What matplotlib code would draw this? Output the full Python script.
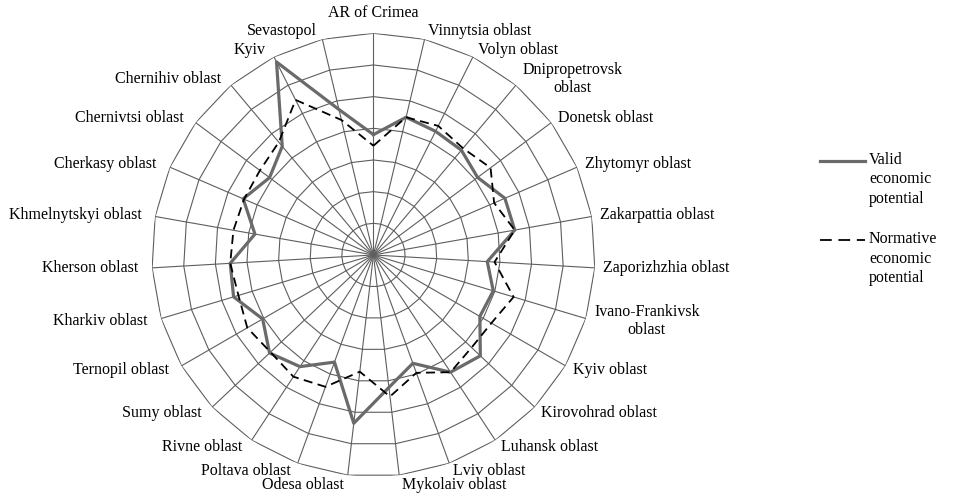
import numpy as np
import matplotlib
matplotlib.use('Agg')
import matplotlib.pyplot as plt
from matplotlib.lines import Line2D

# Regiony (zgodnie z ruchem wskazówek zegara, od góry)
regiony = ["AR of Crimea", "Vinnytsia oblast", "Volyn oblast", "Dnipropetrovsk\noblast",
           "Donetsk oblast", "Zhytomyr oblast", "Zakarpattia oblast", "Zaporizhzhia oblast",
           "Ivano-Frankivsk\noblast", "Kyiv oblast", "Kirovohrad oblast", "Luhansk oblast",
           "Lviv oblast", "Mykolaiv oblast", "Odesa oblast", "Poltava oblast", "Rivne oblast",
           "Sumy oblast", "Ternopil oblast", "Kharkiv oblast", "Kherson oblast",
           "Khmelnytskyi oblast", "Cherkasy oblast", "Chernivtsi oblast", "Chernihiv oblast",
           "Kyiv", "Sevastopol"]

# Wartości
valid = [3.80, 4.47, 4.37, 4.32, 4.10, 4.52, 4.53, 3.60, 3.95, 3.88, 4.64, 4.43, 3.64, 4.21,
         5.35, 3.60, 4.22, 4.51, 4.04, 4.61, 4.53, 3.80, 4.48, 4.09, 4.48, 6.82, 4.72]
normative = [3.45, 4.47, 4.56, 4.40, 4.61, 4.15, 4.53, 3.83, 4.62, 4.30, 4.26, 4.43, 3.96, 4.50,
             3.71, 4.43, 4.60, 4.47, 4.60, 4.45, 4.53, 4.49, 4.45, 4.47, 4.65, 5.48, 4.38]

legenda = ["Valid\neconomic\npotential", "Normative\neconomic\npotential"]

RMAX = 7
SIATKA = '#5e5e5e'

plt.rcParams['font.family'] = ['Liberation Serif', 'DejaVu Serif']
plt.rcParams['font.size'] = 11.5

fig = plt.figure(figsize=(9.63, 4.93), dpi=100)
ax = fig.add_axes([0.1576, 0.0331, 0.4604, 0.8994], projection='polar')
ax.set_theta_zero_location('N')
ax.set_theta_direction(-1)
ax.set_ylim(0, RMAX)
ax.grid(False)
ax.spines['polar'].set_visible(False)
ax.set_xticks([])
ax.set_yticks([])

n = len(regiony)
katy = np.arange(n) * 2 * np.pi / n
katy_z = np.append(katy, katy[0])

# siatka wielokątna
for r in range(1, RMAX + 1):
    ax.plot(katy_z, [r] * (n + 1), color=SIATKA, lw=0.8, zorder=1)
for k in katy:
    ax.plot([k, k], [0, RMAX], color=SIATKA, lw=0.8, zorder=1)

# serie
ax.plot(katy_z, valid + [valid[0]], color='#6a6a6a', lw=2.3, zorder=3)
ax.plot(katy_z, normative + [normative[0]], color='black', lw=1.3, dashes=(5, 3), zorder=4)

# etykiety kategorii
for k, nazwa in zip(katy, regiony):
    s, c = np.sin(k), np.cos(k)
    if abs(s) < 0.05:
        ha, va, dx, dy = 'center', 'bottom', 0, 12
    elif s > 0:
        ha, va, dx, dy = 'left', 'center', 2 + 6.5 * s, 8 * c
    else:
        ha, va, dx, dy = 'right', 'center', -(3 + 11 * abs(s)), 8 * c
    if c < -0.97:
        dy -= 1.5  # najniższe etykiety trochę niżej
    ax.annotate(nazwa, xy=(k, RMAX), xytext=(dx, dy), textcoords='offset pixels',
                ha=ha, va=va, multialignment='center', annotation_clip=False)

# legenda
W, H = 963.0, 493.0
style = [dict(color='#6a6a6a', lw=2.3), dict(color='black', lw=1.3, dashes=(6.5, 3.7))]
for i, (tekst, st) in enumerate(zip(legenda, style)):
    y = 160.7 + i * 79.3
    fig.add_artist(Line2D([820 / W, 865 / W], [1 - y / H, 1 - y / H], **st))
    fig.text(869 / W, 1 - (y - 9) / H, tekst, ha='left', va='top', linespacing=1.3)

fig.savefig('out.png', dpi=100)
